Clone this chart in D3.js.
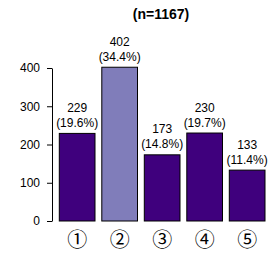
<!DOCTYPE html>
<html><head><meta charset="utf-8">
<script src="https://cdn.jsdelivr.net/npm/d3@7"></script>
<style>body{margin:0;background:#fff}svg{display:block}</style>
</head><body>
<script>
const categories = ["①","②","③","④","⑤"];
const counts = [229, 402, 173, 230, 133];
const percents = ["19.6%","34.4%","14.8%","19.7%","11.4%"];
const highlight = [false, true, false, false, false];
const yTicks = [0, 100, 200, 300, 400];
const title = "(n=1167)";

const W = 269, H = 253;
const svg = d3.select("body").append("svg").attr("width", W).attr("height", H);
const font = "'Liberation Sans', Arial, Helvetica, sans-serif";

const x = d3.scaleBand().domain(categories).range([59.3, 265]).paddingInner(0.16).paddingOuter(0);
const y = d3.scaleLinear().domain([0, 400]).range([221, 68]);

svg.append("text").attr("x", 161).attr("y", 18.5).attr("text-anchor", "middle")
  .attr("font-family", font).attr("font-weight", "bold").attr("font-size", 14).text(title);

svg.selectAll("rect.bar").data(categories).enter().append("rect")
  .attr("x", d => x(d)).attr("width", x.bandwidth())
  .attr("y", (d, i) => y(counts[i])).attr("height", (d, i) => y(0) - y(counts[i]))
  .attr("fill", (d, i) => highlight[i] ? "#807dba" : "#3f007d")
  .attr("stroke", "#000").attr("stroke-width", 1);

const lab = svg.selectAll("g.lab").data(categories).enter().append("g")
  .attr("font-family", font).attr("font-size", 12).attr("text-anchor", "middle").attr("fill", "#000");
lab.append("text").attr("x", d => x(d) + x.bandwidth() / 2).attr("y", (d, i) => y(counts[i]) - 21.5).text((d, i) => counts[i]);
lab.append("text").attr("x", d => x(d) + x.bandwidth() / 2).attr("y", (d, i) => y(counts[i]) - 6.5).text((d, i) => "(" + percents[i] + ")");

const ax = svg.append("g").attr("transform", "translate(52,0)")
  .call(d3.axisLeft(y).tickValues(yTicks).tickSize(5).tickPadding(7).tickSizeOuter(0));
ax.select(".domain").attr("stroke", "#000");
ax.selectAll(".tick line").attr("stroke", "#000");
ax.selectAll(".tick text").attr("font-family", font).attr("font-size", 12).attr("fill", "#000");

svg.selectAll("text.cat").data(categories).enter().append("text")
  .attr("x", d => x(d) + x.bandwidth() / 2).attr("y", 246.5)
  .attr("text-anchor", "middle")
  .attr("font-family", "'Noto Sans CJK JP', 'DejaVu Sans', sans-serif").attr("font-size", 20)
  .text(d => d);
</script>
</body></html>
